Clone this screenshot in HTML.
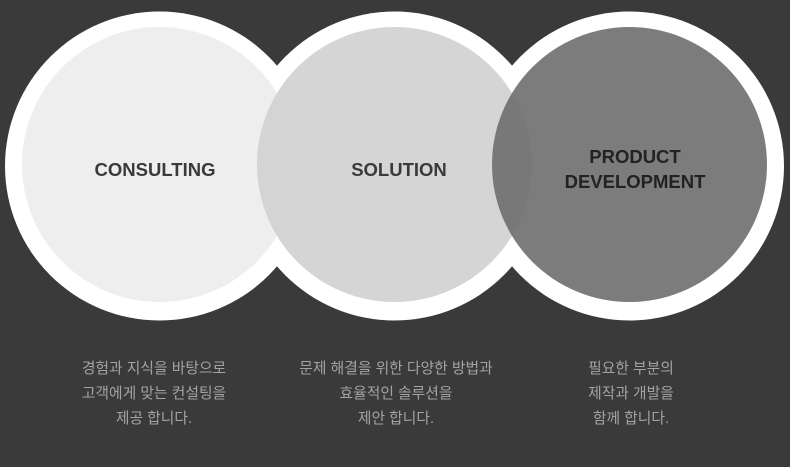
<!DOCTYPE html>
<html><head><meta charset="utf-8"><style>
html,body{margin:0;padding:0;background:#3a3a3a;width:790px;height:467px;overflow:hidden}
svg{position:absolute;left:0;top:0}
.t{position:absolute;text-align:center;color:#a3a3a3;font-family:"Liberation Sans","Noto Sans CJK KR",sans-serif;font-size:14.8px;line-height:25px;width:260px}
</style></head><body>
<svg width="790" height="467" viewBox="0 0 790 467">
<rect width="790" height="467" fill="#3a3a3a"/>
<circle cx="159.5" cy="166" r="154.5" fill="#fff"/>
<circle cx="394.5" cy="166" r="154.5" fill="#fff"/>
<circle cx="629.5" cy="166" r="154.5" fill="#fff"/>
<circle cx="159.5" cy="164.5" r="137.5" fill="#eeeeee"/>
<circle cx="394.5" cy="164.5" r="137.5" fill="#d0d0d0" fill-opacity="0.9"/>
<circle cx="629.5" cy="164.5" r="137.5" fill="#6e6e6e" fill-opacity="0.9"/>
<g font-family="Liberation Sans, sans-serif" font-weight="bold" font-size="18.5" text-anchor="middle">
<text x="155" y="176" fill="#3a3a3a">CONSULTING</text>
<text x="399" y="176" fill="#3a3a3a">SOLUTION</text>
<text x="635" y="163" fill="#222">PRODUCT</text>
<text x="635" y="188" fill="#222">DEVELOPMENT</text>
</g>
</svg>
<div class="t" style="left:24px;top:357px">경험과 지식을 바탕으로<br>고객에게 맞는 컨설팅을<br>제공 합니다.</div>
<div class="t" style="left:266px;top:357px">문제 해결을 위한 다양한 방법과<br>효율적인 솔루션을<br>제안 합니다.</div>
<div class="t" style="left:501px;top:357px">필요한 부분의<br>제작과 개발을<br>함께 합니다.</div>
</body></html>
